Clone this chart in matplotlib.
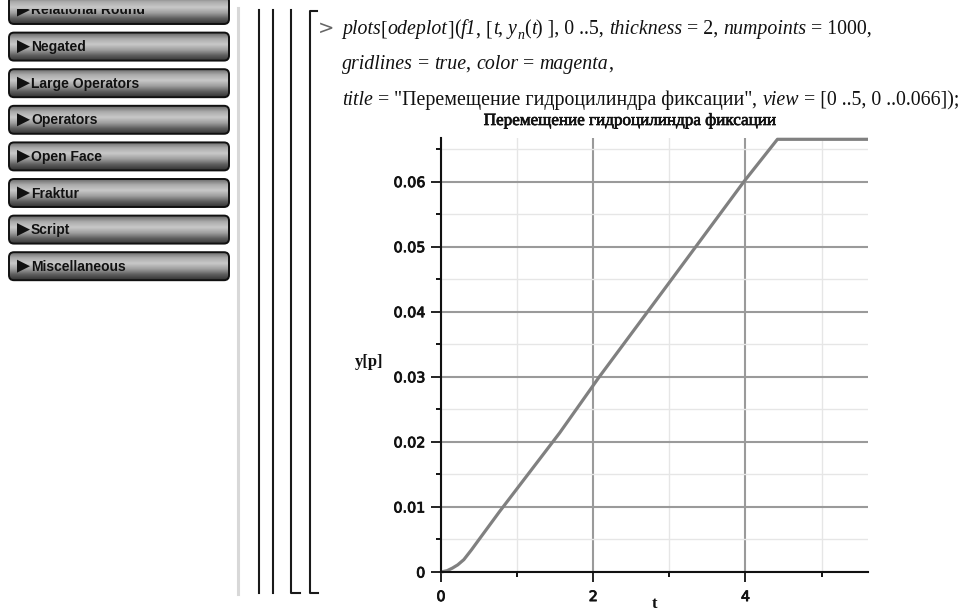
import numpy as np
import matplotlib.pyplot as plt
import matplotlib.patheffects as pe
from matplotlib.patches import FancyBboxPatch, Polygon, Rectangle
from matplotlib.colors import LinearSegmentedColormap
from matplotlib.ticker import FixedLocator, FixedFormatter

# ── Data ────────────────────────────────────────────────────────────────────
t_vals = [0.0, 0.08, 0.15, 0.22, 0.3, 0.4, 0.5, 0.77, 1.56, 2.08, 3.0, 3.98, 4.42, 5.61]
y_vals = [0.0, 0.0002, 0.0006, 0.0011, 0.0019, 0.0034, 0.0050, 0.0093, 0.0214,
          0.0300, 0.0445, 0.0600, 0.0665, 0.0665]

x_major = [0, 2, 4]
x_minor = [1, 3, 5]
x_labels = ['0', '2', '4']
y_major = [0.0, 0.01, 0.02, 0.03, 0.04, 0.05, 0.06]
y_minor = [0.005, 0.015, 0.025, 0.035, 0.045, 0.055, 0.065]
y_labels = ['0', '0.01', '0.02', '0.03', '0.04', '0.05', '0.06']

plot_title = 'Перемещение гидроцилиндра фиксации'
palette = ['Relational Round', 'Negated', 'Large Operators', 'Operators',
           'Open Face', 'Fraktur', 'Script', 'Miscellaneous']

W, H = 966, 613
fig = plt.figure(figsize=(W / 100, H / 100), dpi=100)
fig.patch.set_facecolor('white')

# overlay in pixel units for the worksheet chrome
ov = fig.add_axes([0, 0, 1, 1], zorder=0)
ov.set_xlim(0, W)
ov.set_ylim(H, 0)
ov.axis('off')
renderer = fig.canvas.get_renderer()
heavy = [pe.withStroke(linewidth=0.5, foreground='#111111')]

# ── Palette buttons ────────────────────────────────────────────────────────
btn_cmap = LinearSegmentedColormap.from_list(
    'btn', ['#6a6a6a', '#ababab', '#c8c8c8', '#a0a0a0', '#606060', '#333333'])
grad = np.linspace(0, 1, 64).reshape(-1, 1)
for i, name in enumerate(palette):
    top = -5 + i * 36.6
    box = FancyBboxPatch((9, top + 1), 220, 28,
                         boxstyle='round,pad=0,rounding_size=5',
                         facecolor='none', edgecolor='#111111', lw=1.4, zorder=3)
    ov.add_patch(box)
    im = ov.imshow(grad, cmap=btn_cmap, aspect='auto',
                   extent=(9, 229, top + 29, top + 1), zorder=2)
    im.set_clip_path(box)
    cy = top + 15
    tri = Polygon([[17, cy - 6.5], [17, cy + 6.5], [30, cy]], closed=True,
                  facecolor='#111111', edgecolor='none', zorder=4)
    ov.add_patch(tri)
    txt = ov.text(31, cy + 0.5, name, fontsize=10, family='Liberation Sans',
                  weight='bold', color='#111111', va='center', ha='left', zorder=4)
    if i == 0:
        tri.set_clip_path(Rectangle((0, 9), W, 40, transform=ov.transData))
        txt.set_clip_path(Rectangle((0, 9), W, 40, transform=ov.transData))
        txt.set_clip_on(True)

# ── Worksheet brackets ─────────────────────────────────────────────────────
ov.plot([238, 238], [8, 594], color='#d8d8d8', lw=2.2)
for x in [259, 273]:
    ov.plot([x, x], [10, 593], color='#1a1a1a', lw=1.5)
ov.plot([291, 291, 300], [10, 593, 593], color='#1a1a1a', lw=1.5)
ov.plot([317, 310, 310, 318], [11, 11, 593, 593], color='#1a1a1a', lw=1.5)
ov.text(318, 28, '>', fontsize=14, family='DejaVu Sans', color='#666666',
        va='center', ha='left')


def text_width(s, **kw):
    t = ov.text(0, 0, s + 'x', **kw)
    w1 = t.get_window_extent(renderer=renderer).width
    t.remove()
    t = ov.text(0, 0, 'x', **kw)
    w2 = t.get_window_extent(renderer=renderer).width
    t.remove()
    return w1 - w2


def draw_runs(x, y, runs, size=14.3):
    for s, style in runs:
        kw = dict(fontsize=size, family='Liberation Serif', color='#111111')
        dy = 0
        if style == 'i':
            kw['style'] = 'italic'
        elif style == 'sub':
            kw['style'] = 'italic'
            kw['fontsize'] = size * 0.7
            dy = 5
        ov.text(x, y + dy, s, va='baseline', ha='left', **kw)
        x += text_width(s, **kw)


draw_runs(342, 34, [('plots', 'i'), ('[', 'u'), ('odeplot', 'i'), (']', 'u'),
                    ('(', 'u'), ('f1', 'i'), (', [', 'u'), ('t', 'i'), (', ', 'u'),
                    ('y', 'i'), ('n', 'sub'), ('(', 'u'), ('t', 'i'),
                    (') ], 0 ..5, ', 'u'), ('thickness', 'i'), (' = 2, ', 'u'),
                    ('numpoints', 'i'), (' = 1000,', 'u')])
draw_runs(342, 69, [('gridlines', 'i'), (' = ', 'u'), ('true', 'i'), (', ', 'u'),
                    ('color', 'i'), (' = ', 'u'), ('magenta', 'i'), (',', 'u')])
draw_runs(342, 105, [('title', 'i'), (' = ', 'u'), ('"' + plot_title + '"', 'u'),
                     (', ', 'u'), ('view', 'i'), (' = [0 ..5, 0 ..0.066]);', 'u')])

ov.text(631, 121, plot_title, fontsize=12.3, family='Liberation Serif',
        color='#111111', ha='center', va='center', path_effects=heavy)

# ── The odeplot itself ─────────────────────────────────────────────────────
ax = fig.add_axes([441 / W, 1 - 572 / H, (868 - 441) / W, (572 - 138) / H], zorder=1)
ax.patch.set_alpha(0)
ax.plot(t_vals, y_vals, color='#808080', lw=2.3, solid_capstyle='butt',
        zorder=3, clip_on=False)
ax.set_xlim(0, 5.61)
ax.set_ylim(0, 0.0667)

ax.xaxis.set_major_locator(FixedLocator(x_major))
ax.xaxis.set_minor_locator(FixedLocator(x_minor))
ax.xaxis.set_major_formatter(FixedFormatter(x_labels))
ax.yaxis.set_major_locator(FixedLocator(y_major))
ax.yaxis.set_minor_locator(FixedLocator(y_minor))
ax.yaxis.set_major_formatter(FixedFormatter(y_labels))

ax.grid(which='major', color='#9a9a9a', lw=1.5, zorder=1)
ax.grid(which='minor', color='#e6e6e6', lw=1.0, zorder=0)
ax.set_axisbelow(True)

for side in ['top', 'right']:
    ax.spines[side].set_visible(False)
for side in ['left', 'bottom']:
    ax.spines[side].set_linewidth(1.5)
    ax.spines[side].set_color('#111111')
    ax.spines[side].set_zorder(4)

ax.tick_params(which='major', direction='out', length=7, width=1.3,
               labelsize=10.3, colors='#111111')
ax.tick_params(which='minor', direction='out', length=3.6, width=1.3)
ax.tick_params(axis='y', which='major', pad=4.3)
ax.tick_params(axis='x', which='major', pad=6)
for lab in ax.get_xticklabels() + ax.get_yticklabels():
    lab.set_family('DejaVu Sans')
    lab.set_path_effects([pe.withStroke(linewidth=0.6, foreground='#111111')])

ov.text(369, 362, 'y[p]', fontsize=12, family='Liberation Serif',
        weight='bold', color='#111111', ha='center', va='center')
ov.text(655, 604, 't', fontsize=12, family='Liberation Serif',
        weight='bold', color='#111111', ha='center', va='center')

fig.savefig('out.png', dpi=100, facecolor='white')
